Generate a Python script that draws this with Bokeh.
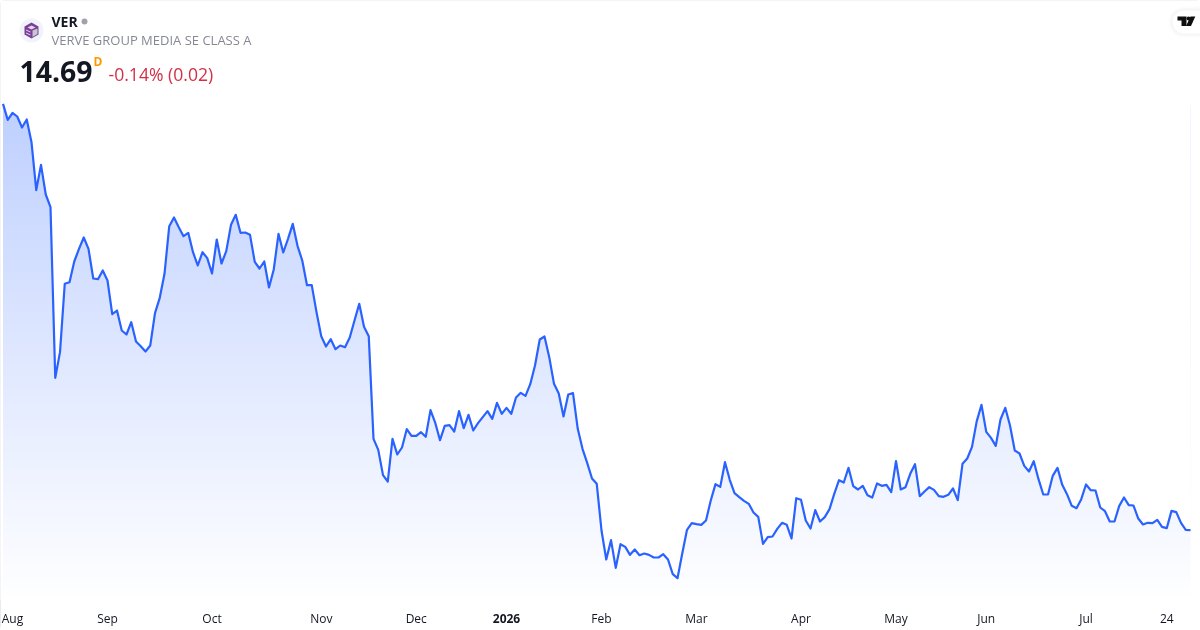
from bokeh.plotting import figure
from bokeh.models import Label, LinearAxis, Range1d, FixedTicker
from bokeh.embed import file_html
from bokeh.resources import INLINE

# ---- chart data -----------------------------------------------------------
prices_aug_nov = [
    40.27, 39.31, 39.73, 39.51, 38.85, 39.33, 37.97, 35.09, 36.61, 34.83, 34.07, 23.83,
    25.37, 29.47, 29.57, 30.81, 31.57, 32.25, 31.57, 29.79, 29.75, 30.27, 29.67, 27.65,
    27.87, 26.67, 26.43, 27.17, 26.01, 25.73, 25.41, 25.77, 27.71, 28.63, 30.07, 32.93,
    33.45, 32.87, 32.33, 32.53, 31.37, 30.57, 31.37, 31.01, 30.09, 32.13, 30.69, 31.43,
    33.01, 33.61, 32.53, 32.55, 32.41, 30.79, 30.39, 30.81, 29.25, 30.33, 32.47, 31.35,
    32.17, 33.07, 31.75, 30.87, 29.39, 29.39, 27.77, 26.33, 25.71, 26.15, 25.55, 25.77,
    25.67, 26.25, 27.27, 28.27, 26.89, 26.33,
]
prices_nov_mar = [
    20.17, 19.51, 17.99, 17.61, 20.17, 19.23, 19.65, 20.75, 20.35, 20.35, 20.57, 20.29,
    21.89, 21.13, 20.09, 20.95, 20.99, 20.61, 21.83, 20.81, 21.61, 20.67, 21.11, 21.47,
    21.83, 21.37, 22.33, 21.67, 22.03, 21.67, 22.65, 22.93, 22.75, 23.45, 24.57, 26.13,
    26.31, 25.07, 23.47, 22.89, 21.51, 22.83, 22.91, 20.77, 19.57, 18.71, 17.79, 17.47,
    14.67, 12.93, 14.09, 12.43, 13.85, 13.69, 13.21, 13.53, 13.19, 13.29, 13.21, 13.05,
    13.05, 13.25, 12.93, 12.05, 11.81, 13.29, 14.71, 15.11, 15.05, 15.01, 15.27, 16.47,
    17.45, 17.29, 18.77, 17.71, 16.91, 16.67, 16.45, 16.27, 15.75, 15.49,
]
prices_mar_jul = [
    13.87, 14.27, 14.31, 14.77, 15.13, 15.01, 14.19, 16.61, 16.51, 15.27, 14.79, 15.89,
    15.21, 15.47, 15.95, 16.87, 17.69, 17.55, 18.43, 17.33, 17.13, 17.35, 16.79, 16.65,
    17.49, 17.35, 17.41, 16.97, 18.83, 17.13, 17.27, 18.07, 18.65, 16.73, 17.01, 17.27,
    17.11, 16.73, 16.69, 16.81, 17.19, 16.49, 18.67, 18.99, 19.69, 21.23, 22.21, 20.59,
    20.23, 19.75, 21.33, 22.03, 20.97, 19.47, 19.29, 18.55, 18.21, 18.83, 17.75, 16.83,
    16.83, 17.95, 18.43, 17.41, 16.85, 16.15, 16.01, 16.55, 17.43, 17.09, 17.07, 16.05,
    15.83, 15.21, 15.21, 16.15, 16.65, 16.19, 16.17, 15.39, 15.03, 15.13, 15.11, 15.31,
    14.89, 14.81, 15.85, 15.77, 15.13, 14.71, 14.69,
]
tick_index = [2, 22, 44, 67, 87, 126, 146, 168, 188, 207, 228, 245]
tick_label = ["Aug", "Sep", "Oct", "Nov", "Dec", "Feb", "Mar", "Apr", "May", "Jun", "Jul", "24"]
year_index = 106
year_label = "2026"

symbol = "VER"
company = "VERVE GROUP MEDIA SE CLASS A"
last_price = "14.69"
interval = "D"
change = "-0.14% (0.02)"

# ---- layout ---------------------------------------------------------------
W, H, AXIS_H = 1200, 630, 30
FONT = "Open Sans"
LINE = "#2962FF"

prices = prices_aug_nov + prices_nov_mar + prices_mar_jul
idx = list(range(len(prices)))
n = len(prices)

# first point at 2.5 px, last point at 1190 px; 0.06 price units per pixel
sx = (1190 - 2.5) / (n - 1)
PX0 = -2.5 / sx
def px(x):
    return PX0 + x / sx
def py(y):
    return 14.69 + (529.67 - y) * 0.06

p = figure(width=W, height=H, frame_width=W, frame_height=H - AXIS_H,
           output_backend="svg", toolbar_location=None,
           x_range=Range1d(px(0), px(W)), y_range=Range1d(py(H - AXIS_H), py(0)),
           min_border=0, min_border_bottom=AXIS_H, min_border_left=0, min_border_right=0,
           min_border_top=0, y_axis_location=None, background_fill_color="white",
           border_fill_color="white")
p.styles = {"position": "fixed", "left": "0", "top": "0", "border-radius": "4px",
            "outline": "1px solid #E0E3EB", "outline-offset": "-1px"}
p.grid.visible = False
p.outline_line_color = None

# gradient under the line: nested bands from the top of the series to the fade-out
TOP_Y, BOT_Y, STEPS = 104, 600, 110
for i in range(STEPS):
    t = i / STEPS
    a = 0.30 * (1 - t)
    col = "#%02x%02x%02x" % (round(255 - 214 * a), round(255 - 157 * a), 255)
    p.quad(left=0, right=n - 1, bottom=py(BOT_Y), top=py(TOP_Y + t * (BOT_Y - TOP_Y)),
           fill_color=col, line_color=None)
# cover above the series and beside it
p.varea(x=idx, y1=prices, y2=[py(0)] * n, fill_color="white")
p.quad(left=n - 1, right=px(W), bottom=py(H), top=py(0), fill_color="white", line_color=None)
p.quad(left=px(0), right=0, bottom=py(H), top=py(0), fill_color="white", line_color=None)
p.line(idx, prices, line_color=LINE, line_width=2.2, line_join="round")

# x axis
def style_axis(ax, standoff, weight):
    ax.axis_line_color = None
    ax.major_tick_line_color = None
    ax.minor_tick_line_color = None
    ax.major_label_text_font = FONT
    ax.major_label_text_font_size = "12px"
    ax.major_label_text_font_style = weight
    ax.major_label_text_color = "#131722"
    ax.major_label_standoff = standoff

ax = p.xaxis[0]
ax.ticker = FixedTicker(ticks=tick_index)
ax.major_label_overrides = dict(zip(tick_index, tick_label))
style_axis(ax, 3, "normal")
year_ax = LinearAxis(ticker=FixedTicker(ticks=[year_index]),
                     major_label_overrides={year_index: year_label})
style_axis(year_ax, -22, "bold")
p.add_layout(year_ax, "below")

def label(x, y, text, size, color, style="normal"):
    p.add_layout(Label(x=px(x), y=py(y), text=text, text_font=FONT, text_font_size=size,
                       text_color=color, text_font_style=style, text_baseline="middle",
                       text_align="left"))

def poly(pts, color, **kw):
    p.patch([px(a) for a, _ in pts], [py(b) for _, b in pts], fill_color=color, line_color=None, **kw)

# header
p.scatter([px(31)], [py(30)], size=24, marker="circle", fill_color="#F0F3FA", line_color=None)
PURPLE = "#7B3F98"
poly([(31, 22), (38, 26), (38, 34), (31, 38), (24, 34), (24, 26)], PURPLE)
poly([(27, 27), (31, 29), (35, 27), (31, 25)], "#E4D5EC")
poly([(32, 30), (37, 28), (37, 33.5), (32, 36.5)], "#C9C6CE")
poly([(25.5, 29), (30, 31), (30, 32), (25.5, 30)], "#E4D5EC")
poly([(25.5, 32), (30, 34), (30, 35), (25.5, 33)], "#E4D5EC")

label(51, 20.5, symbol, "14px", "#131722", "bold")
p.scatter([px(84)], [py(21)], size=6, marker="circle", fill_color="#A0A3AB", line_color=None)
label(51, 39.5, company, "13px", "#868993")
label(19, 70.5, last_price, "28.4px", "#131722", "bold")
label(93, 60.5, interval, "12px", "#FF9800", "bold")
label(108, 73.5, change, "17.6px", "#D32F45")

# logo pill, top right
for grow, col in ((4, "#FCFCFD"), (2.5, "#F9F9FA"), (1.2, "#F5F5F7"), (0, "#FFFFFF")):
    p.scatter([px(1183.5)], [py(21.5)], size=23 + 2 * grow, marker="circle", fill_color=col, line_color=None)
    p.quad(left=px(1183.5), right=px(1200), bottom=py(33 + grow), top=py(10 - grow), fill_color=col, line_color=None)
poly([(1177, 16), (1186, 16), (1186, 25.5), (1181, 25.5), (1181, 20), (1177, 20)], "#0F0F0F")
p.scatter([px(1188)], [py(18)], size=4, marker="circle", fill_color="#0F0F0F", line_color=None)
poly([(1190, 16), (1194.8, 16), (1190.5, 25.5), (1185.5, 25.5)], "#0F0F0F")

open("out.html", "w").write(file_html(p, INLINE))
